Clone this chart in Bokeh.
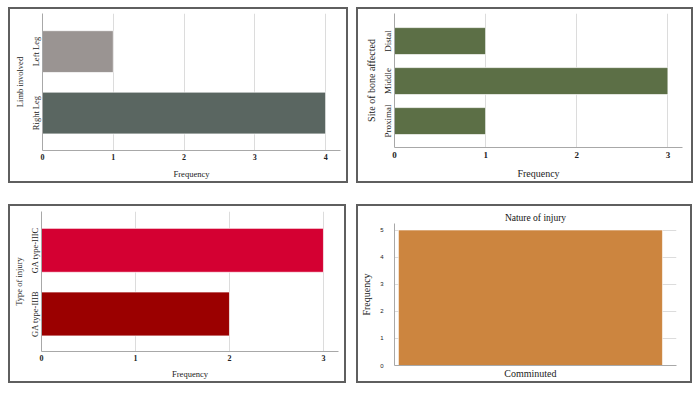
from bokeh.plotting import figure
from bokeh.layouts import column, row
from bokeh.models import Range1d, FixedTicker
from bokeh.embed import file_html
from bokeh.resources import INLINE

# ---- data ----
limb_cats = ["Right Leg", "Left Leg"]
limb_vals = [4, 1]
limb_colors = ["#5a6661", "#9a9492"]

site_cats = ["Proximal", "Middle", "Distal"]
site_vals = [1, 3, 1]
site_color = "#5c6f46"

type_cats = ["GA type-IIIB", "GA type-IIIC"]
type_vals = [2, 3]
type_colors = ["#9b0000", "#d40032"]

nature_cats = ["Comminuted"]
nature_vals = [5]
nature_color = "#cc853f"

SERIF = "Liberation Serif"
BORDER = {"outline": "2px solid #5f5f5f"}
AX = "#a8a8a8"
GRID = "#dcdcdc"


def style_axis(ax):
    ax.axis_line_color = AX
    ax.major_tick_line_color = None
    ax.minor_tick_line_color = None
    ax.major_tick_out = 0
    ax.major_tick_in = 0
    ax.minor_tick_out = 0
    ax.minor_tick_in = 0
    ax.axis_label_text_font = SERIF
    ax.axis_label_text_font_style = "normal"
    ax.axis_label_text_color = "#222222"
    ax.major_label_text_color = "#222222"


def hbar_panel(w, h, cats, vals, colors, xmax, ymin, ymax, bar_h, xticks,
               ylabel, mins, fs):
    p = figure(width=w, height=h, output_backend="svg", toolbar_location=None,
               x_range=Range1d(0, xmax), y_range=Range1d(ymin, ymax),
               min_border_left=mins[0], min_border_right=mins[1],
               min_border_top=mins[2], min_border_bottom=mins[3])
    idx = list(range(len(cats)))
    p.hbar(y=idx, right=vals, height=bar_h, left=0, fill_color=colors,
           line_color="white", line_width=1, line_alpha=0.7)
    p.outline_line_color = None
    p.ygrid.grid_line_color = None
    p.xgrid.grid_line_color = GRID
    p.xgrid.ticker = FixedTicker(ticks=xticks)
    p.xaxis.ticker = FixedTicker(ticks=xticks)
    p.yaxis.ticker = FixedTicker(ticks=idx)
    p.yaxis.major_label_overrides = {i: c for i, c in zip(idx, cats)}
    p.yaxis.major_label_orientation = "vertical"
    for ax in (p.xaxis, p.yaxis):
        style_axis(ax)
        ax.major_label_text_font = SERIF
    p.xaxis.major_label_text_font_size = fs["xt"]
    p.xaxis.major_label_text_font_style = "bold"
    p.yaxis.major_label_text_font_size = fs["yt"]
    p.xaxis.axis_label = "Frequency"
    p.yaxis.axis_label = ylabel
    p.xaxis.axis_label_text_font_size = fs["xl"]
    p.yaxis.axis_label_text_font_size = fs["yl"]
    p.xaxis.major_label_standoff = fs["xs"]
    p.yaxis.major_label_standoff = 1
    p.xaxis.axis_label_standoff = fs["xls"]
    p.yaxis.axis_label_standoff = 4
    return p


p1 = hbar_panel(336, 172, limb_cats, limb_vals, limb_colors, 4.21, -0.61, 1.62,
                0.68, [0, 1, 2, 3, 4], "Limb involved", (32, 6, 4, 31),
                dict(xt="8px", yt="8.5px", xl="8.5px", yl="8.5px", xs=3, xls=6))
p2 = hbar_panel(333, 172, site_cats, site_vals, [site_color] * 3, 3.16, -0.66, 2.69,
                0.675, [0, 1, 2, 3], "Site of bone affected", (36, 9, 4, 34),
                dict(xt="9px", yt="9px", xl="10px", yl="10px", xs=4, xls=7))
p3 = hbar_panel(334, 175, type_cats, type_vals, type_colors, 3.16, -0.59, 1.61,
                0.69, [0, 1, 2, 3], "Type of injury", (31, 6, 5, 27),
                dict(xt="8px", yt="8.5px", xl="8.5px", yl="8.5px", xs=3, xls=5))

# ---- panel 4: vertical bar ----
p4 = figure(width=332, height=175, output_backend="svg", toolbar_location=None,
            x_range=Range1d(-0.484, 0.52), y_range=Range1d(0, 5.24),
            min_border_left=36, min_border_right=14, min_border_top=17,
            min_border_bottom=16, title="Nature of injury")
p4.title.text_font = SERIF
p4.title.text_font_size = "9.5px"
p4.title.text_font_style = "normal"
p4.title.align = "center"
p4.title.text_color = "#111111"
p4.title.standoff = 2
p4.title.offset = 0
nidx = list(range(len(nature_cats)))
p4.vbar(x=nidx, top=nature_vals, width=0.94, bottom=0, fill_color=nature_color,
        line_color="white", line_width=1, line_alpha=0.6)
p4.outline_line_color = None
p4.xgrid.grid_line_color = None
p4.ygrid.grid_line_color = GRID
p4.ygrid.ticker = FixedTicker(ticks=[0, 1, 2, 3, 4, 5])
p4.yaxis.ticker = FixedTicker(ticks=[0, 1, 2, 3, 4, 5])
p4.xaxis.ticker = FixedTicker(ticks=nidx)
p4.xaxis.major_label_overrides = {i: c for i, c in zip(nidx, nature_cats)}
for ax in (p4.xaxis, p4.yaxis):
    style_axis(ax)
p4.yaxis.major_label_text_font = "Liberation Sans"
p4.yaxis.major_label_text_font_size = "6px"
p4.yaxis.major_label_standoff = 11
p4.xaxis.major_label_text_font = SERIF
p4.xaxis.major_label_text_font_size = "10px"
p4.xaxis.major_label_standoff = 2
p4.yaxis.axis_label = "Frequency"
p4.yaxis.axis_label_text_font_size = "10px"
p4.yaxis.axis_label_standoff = 5


def boxed(p):
    c = column(p, width=p.width, height=p.height, sizing_mode="fixed")
    c.styles = BORDER
    return c


layout = column(row(boxed(p1), boxed(p2), spacing=12),
                row(boxed(p3), boxed(p4), spacing=14), spacing=25)
layout.styles = {"margin-left": "10px", "margin-top": "9px"}
open("out.html", "w").write(file_html(layout, INLINE))
